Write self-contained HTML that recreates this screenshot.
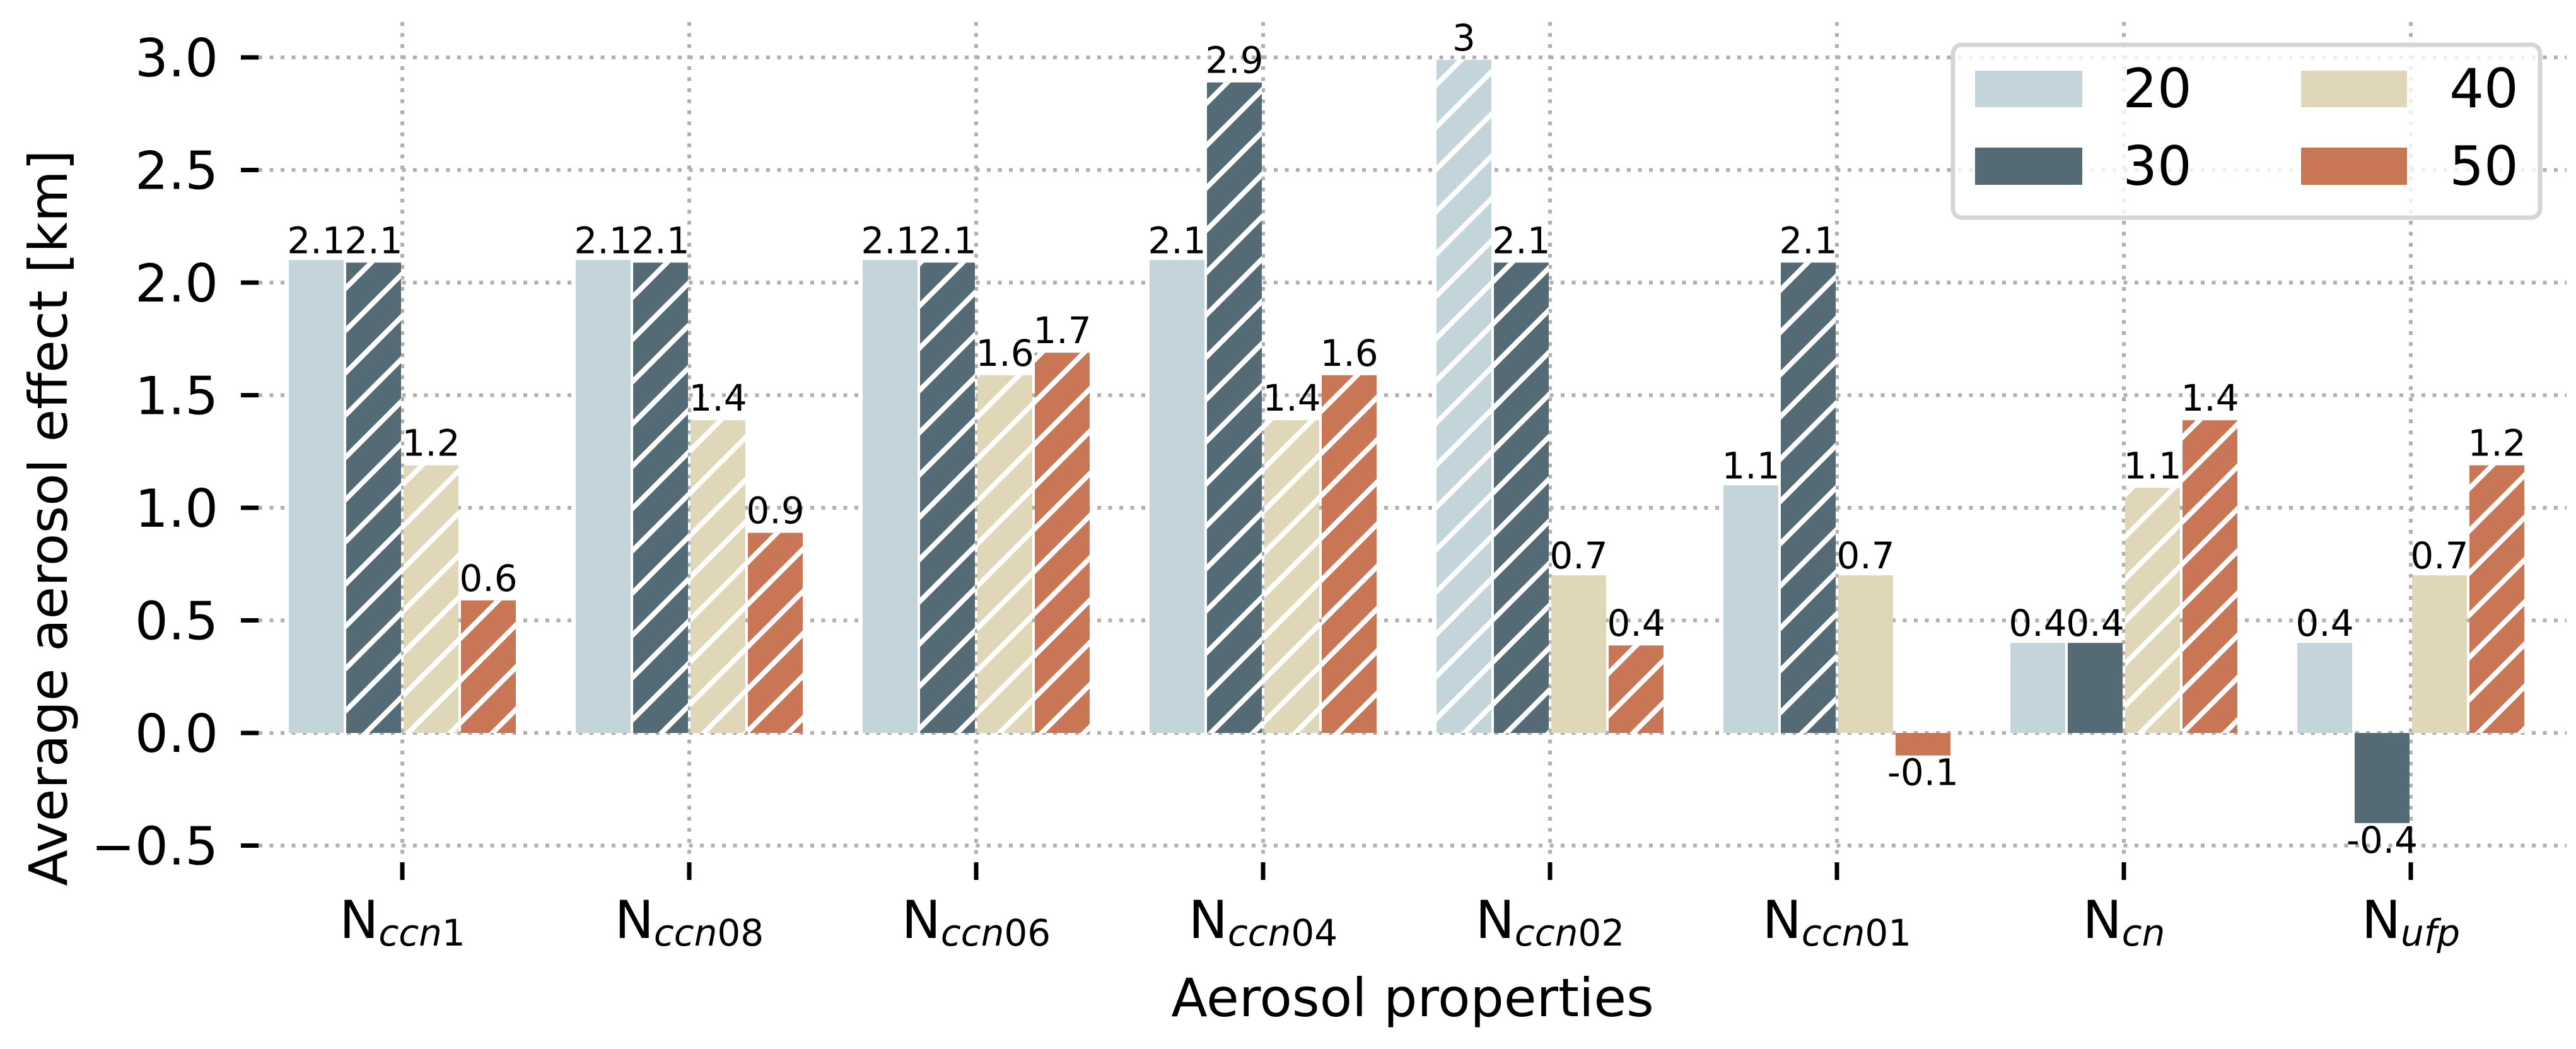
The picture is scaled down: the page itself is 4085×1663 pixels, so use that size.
<!DOCTYPE html>
<html><head><meta charset="utf-8"><style>
html,body{margin:0;padding:0;background:#fff;}
svg{display:block;font-family:"DejaVu Sans","Liberation Sans",sans-serif;}
</style></head><body>
<svg id="chart" width="4085" height="1663" viewBox="0 0 4085 1663" xmlns="http://www.w3.org/2000/svg">
<defs>
<pattern id="hatch" patternUnits="userSpaceOnUse" width="67" height="67">
<line x1="-10" y1="77" x2="77" y2="-10" stroke="#fff" stroke-width="8"/>
<line x1="-44" y1="44" x2="44" y2="-44" stroke="#fff" stroke-width="8"/>
<line x1="23" y1="111" x2="111" y2="23" stroke="#fff" stroke-width="8"/>
</pattern>
</defs>
<g id="grid"></g>
<g id="bars"></g>
<g id="labels"></g>
<g id="axes"></g>
<text transform="translate(106,821) rotate(-90)" text-anchor="middle" font-size="84">Average aerosol effect [km]</text>
<text x="2240" y="1611" text-anchor="middle" font-size="84">Aerosol properties</text>
<g>
<rect x="3097" y="71" width="931" height="274" rx="14" fill="#fff" fill-opacity="0.8" stroke="#d5d5d5" stroke-width="7"/>
<rect x="3132" y="112" width="170" height="58" fill="#c3d4da"/>
<text x="3421" y="170" text-anchor="middle" font-size="86">20</text>
<rect x="3132" y="234" width="170" height="59" fill="#546a74"/>
<text x="3421" y="293" text-anchor="middle" font-size="86">30</text>
<rect x="3649" y="112" width="168" height="58" fill="#e0d7b8"/>
<text x="3939" y="170" text-anchor="middle" font-size="86">40</text>
<rect x="3649" y="234" width="168" height="59" fill="#c87655"/>
<text x="3939" y="293" text-anchor="middle" font-size="86">50</text>
</g>
</svg>
<script>
const categories = ["ccn1","ccn08","ccn06","ccn04","ccn02","ccn01","cn","ufp"];
const seriesNames = ["20","30","40","50"];
const s20 = [2.1,2.1,2.1,2.1,3,1.1,0.4,0.4];
const s30 = [2.1,2.1,2.1,2.9,2.1,2.1,0.4,-0.4];
const s40 = [1.2,1.4,1.6,1.4,0.7,0.7,1.1,0.7];
const s50 = [0.6,0.9,1.7,1.6,0.4,-0.1,1.4,1.2];
const h20 = [0,0,0,0,1,0,0,0];
const h30 = [1,1,1,1,1,1,0,0];
const h40 = [1,1,1,1,0,0,1,0];
const h50 = [1,1,1,1,1,0,1,1];
const yTicks = [-0.5,0,0.5,1,1.5,2,2.5,3];
const yTickLabels = ["\u22120.5","0.0","0.5","1.0","1.5","2.0","2.5","3.0"];

const colors = ["#c3d4da","#546a74","#e0d7b8","#c87655"];
const series = [s20,s30,s40,s50];
const hatches = [h20,h30,h40,h50];
const NS = "http://www.w3.org/2000/svg";
const X0 = 638, XS = 455, Y0 = 1162, YS = 357;
function xScale(i){ return X0 + XS*i; }
function yScale(v){ return Y0 - YS*v; }
function mk(tag, attrs, parent){ const e=document.createElementNS(NS,tag); for(const k in attrs) e.setAttribute(k,attrs[k]); parent.appendChild(e); return e; }
const grid=document.getElementById('grid'), bars=document.getElementById('bars'), labels=document.getElementById('labels'), axes=document.getElementById('axes');
const gridStyle={stroke:"#b0b0b0","stroke-width":6,"stroke-dasharray":"6 11.5",fill:"none"};
yTicks.forEach((t,k)=>{
  const y=yScale(t);
  const g=mk('line',Object.assign({x1:410,x2:4070,y1:y,y2:y},gridStyle),grid);
  
  
  const tm=mk('line',{x1:382,x2:410,y1:y,y2:y,stroke:"#000","stroke-width":7},axes);
  
  
  const tl=mk('text',{x:346,y:y+30,"text-anchor":"end","font-size":83},axes);
  
  
  tl.textContent=yTickLabels[k];
});
categories.forEach((c,i)=>{
  const x=xScale(i);
  const g=mk('line',Object.assign({x1:x,x2:x,y1:35,y2:1362},gridStyle),grid);
  
  
  const tm=mk('line',{x1:x,x2:x,y1:1367,y2:1395,stroke:"#000","stroke-width":7},axes);
  
  
  const tl=mk('text',{x:x,y:1487,"text-anchor":"middle","font-size":83},axes);
  
  
  const t1=mk('tspan',{},tl); t1.textContent="N";
  const letters=c.replace(/[0-9]/g,''), digits=c.replace(/[^0-9]/g,'');
  const t2=mk('tspan',{"font-size":58,"font-style":"italic",dy:12},tl); t2.textContent=letters;
  if(digits){ const t3=mk('tspan',{"font-size":58},tl); t3.textContent=digits; }
  series.forEach((s,j)=>{
    const v=s[i];
    const bw=XS*0.2;
    const left=x+(j-2)*bw;
    const yt=yScale(Math.max(v,0)), yb=yScale(Math.min(v,0));
    const hatched=hatches[j][i];
    const inset=hatched?4:0;
    const r=mk('rect',{x:left+2,y:yt+inset,width:bw-4,height:Math.max(0,yb-yt-inset),fill:colors[j]},bars);
    
    
    if(hatched){
      const h=mk('rect',{x:left+2,y:yt+inset,width:bw-4,height:Math.max(0,yb-yt-inset),fill:"url(#hatch)"},bars);
      
      
    }
    const ly = v>=0 ? yScale(v)-11 : yScale(v)+47;
    const lt=mk('text',{x:left+bw/2,y:ly,"text-anchor":"middle","font-size":58},labels);
    
    
    lt.textContent=String(v);
  });
});
</script>
</body></html>
